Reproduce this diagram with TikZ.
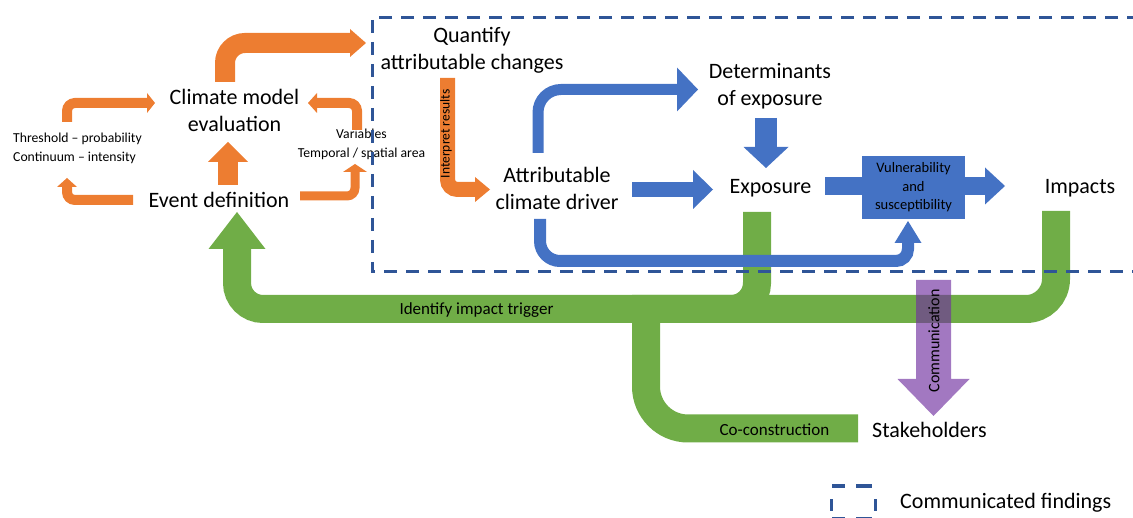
\documentclass[tikz,border=0pt]{standalone}
\usepackage{fontspec}
\setmainfont{Carlito}
\definecolor{orng}{HTML}{ED7D31}
\definecolor{blu}{HTML}{4472C4}
\definecolor{grn}{HTML}{70AD47}
\definecolor{prp}{HTML}{7030A0}
\definecolor{dsh}{HTML}{2F5597}
\newcommand\ahead[5]{\fill[#1,shift={(#2)},rotate=#3] (-#4,-#5) -- (0,0) -- (-#4,#5) -- cycle;}
\begin{document}
\begin{tikzpicture}[x=1pt,y=-1pt,
  big/.style={font=\fontsize{22}{27}\selectfont, align=center, inner sep=0pt},
  note/.style={font=\fontsize{13.7}{19}\selectfont, inner sep=0pt},
  barlbl/.style={font=\fontsize{17}{20}\selectfont, inner sep=0pt},
  vbox/.style={fill=blu, minimum width=103pt, minimum height=63pt, inner sep=0pt, align=center, font=\fontsize{14.5}{18.5}\selectfont},
  oshaft/.style={draw=orng, line cap=butt},
  bshaft/.style={draw=blu, line cap=butt},
  gshaft/.style={draw=grn, line cap=butt, line width=28pt},
  frame/.style={draw=dsh, line width=3pt, dash pattern=on 13pt off 9pt},
]
\useasboundingbox (0,0) rectangle (1133,518);

% ---------- green feedback arrows ----------
\coordinate (g2s) at (1056,211); \coordinate (g2e) at (632,309);
\coordinate (g3s) at (646,300); \coordinate (g3e) at (858,428.5);
\coordinate (g1s) at (757,212); \coordinate (g1c) at (237,309);
\coordinate (g1e) at (237,249); \coordinate (g1t) at (237,212);
\draw[gshaft, rounded corners=30pt] (g2s) |- (g2e);
\draw[gshaft, rounded corners=42pt] (g3s) |- (g3e);
\draw[gshaft, rounded corners=26pt] (g1s) |- (g1c) -- (g1e);
\ahead{grn}{g1t}{90}{37}{28.5}

% ---------- purple communication arrow ----------
\fill[prp, opacity=0.65] (916,280) -- (951,280) -- (951,379) -- (969.5,379)
  -- (933.5,416) -- (897.5,379) -- (916,379) -- cycle;

% ---------- text (multi-line nodes: base = baseline of last line) ----------
\node[big, anchor=base] (cme) at (234.5,132) {Climate model\\evaluation};
\node[big, anchor=base] (evd) at (219,208) {Event definition};
\node[note, anchor=base west, align=left] (thr) at (13,162) {Threshold – probability\\Continuum – intensity};
\node[note, anchor=base, align=center] (var) at (361.5,158) {Variables\\Temporal / spatial area};
\node[big, anchor=base] (qac) at (472,70) {Quantify\\attributable changes};
\node[big, anchor=base] (acd) at (557,210) {Attributable\\climate driver};
\node[big, anchor=base] (doe) at (770,106) {Determinants\\of exposure};
\node[big, anchor=base] (exp) at (770.5,194) {Exposure};
\node[big, anchor=base] (imp) at (1080,194) {Impacts};
\node[big, anchor=base] (stk) at (929.5,438) {Stakeholders};
\node[barlbl, anchor=base] (iit) at (476.5,315) {Identify impact trigger};
\node[barlbl, anchor=base] (coc) at (774.5,436) {Co-construction};
\node[font=\fontsize{16}{19}\selectfont, inner sep=0pt, rotate=90] (com) at (934,341) {Communication};
\node[vbox] (vul) at (913.5,187.5) {Vulnerability\\and\\susceptibility};
\node[big, anchor=base west] (leg) at (900,508) {Communicated findings};

% ---------- dashed frame and legend ----------
\coordinate (f1) at (1140,18); \coordinate (f2) at (372,18);
\coordinate (f3) at (372,272); \coordinate (f4) at (1140,272);
\draw[frame] (f1) -- (f2) -- (f3) -- (f4);
\draw[draw=dsh, line width=3pt, line cap=butt]
  (832,486) -- (845,486) (856,486) -- (872,486)
  (831,499) -- (831,511) (875,499) -- (875,511)
  (832,518) -- (845,518) (856,518) -- (872,518);

% ---------- orange arrows ----------
\coordinate (o1s) at (225,82); \coordinate (o1c) at (350,43); \coordinate (o1t) at (366,43);
\draw[oshaft, line width=20pt, rounded corners=20pt] (o1s) |- (o1c);
\ahead{orng}{o1t}{0}{16}{14}
\coordinate (o2s) at (67,122); \coordinate (o2c) at (147,103); \coordinate (o2t) at (155,103);
\draw[oshaft, line width=10pt, rounded corners=8pt] (o2s) |- (o2c);
\ahead{orng}{o2t}{0}{8}{10}
\coordinate (o3s) at (133,200); \coordinate (o3c) at (67,187); \coordinate (o3t) at (67,178);
\draw[oshaft, line width=10pt, rounded corners=8pt] (o3s) -| (o3c);
\ahead{orng}{o3t}{90}{9}{10}
\coordinate (o4s) at (300,196); \coordinate (o4c) at (355,172); \coordinate (o4t) at (355,164);
\draw[oshaft, line width=9pt, rounded corners=8pt] (o4s) -| (o4c);
\ahead{orng}{o4t}{90}{8}{12}
\coordinate (o5s) at (357,130); \coordinate (o5c) at (317,103); \coordinate (o5t) at (308,103);
\draw[oshaft, line width=10pt, rounded corners=8pt] (o5s) |- (o5c);
\ahead{orng}{o5t}{180}{9}{10}
\coordinate (o6s) at (228,185); \coordinate (o6c) at (228,162); \coordinate (o6t) at (228,142);
\draw[oshaft, line width=20pt] (o6s) -- (o6c);
\ahead{orng}{o6t}{90}{20}{20}
\coordinate (o7s) at (447.5,78); \coordinate (o7c) at (475,189.5); \coordinate (o7t) at (490,189.5);
\draw[oshaft, line width=15pt, rounded corners=10pt] (o7s) |- (o7c);
\ahead{orng}{o7t}{0}{15}{12.5}
\node[font=\fontsize{13.5}{16}\selectfont, inner sep=0pt, rotate=90] (ipr) at (446,134) {Interpret results};

% ---------- blue arrows ----------
\coordinate (b1s) at (538,153); \coordinate (b1c) at (677,89.5); \coordinate (b1t) at (698,89.5);
\draw[bshaft, line width=11pt, rounded corners=23pt] (b1s) |- (b1c);
\ahead{blu}{b1t}{0}{21}{22}
\coordinate (b2s) at (632,189.5); \coordinate (b2c) at (693,189.5); \coordinate (b2t) at (713,189.5);
\draw[bshaft, line width=15pt] (b2s) -- (b2c);
\ahead{blu}{b2t}{0}{20}{19.5}
\coordinate (b3s) at (540,219); \coordinate (b3m) at (720,261);
\coordinate (b3c) at (908,243); \coordinate (b3t) at (908,221);
\draw[bshaft, line width=12pt] (b3s) [rounded corners=20pt] |- (b3m) [rounded corners=12pt] -| (b3c);
\ahead{blu}{b3t}{90}{22}{13.5}
\coordinate (b4s) at (766,118); \coordinate (b4c) at (766,147); \coordinate (b4t) at (766,168);
\draw[bshaft, line width=22pt] (b4s) -- (b4c);
\ahead{blu}{b4t}{-90}{21}{22.5}
\coordinate (b5s) at (825,186); \coordinate (b5e) at (985,186); \coordinate (b5t) at (1005,186);
\draw[bshaft, line width=18pt] (b5s) -- (b5s -| vul.west);
\draw[bshaft, line width=18pt] (b5s -| vul.east) -- (b5e);
\ahead{blu}{b5t}{0}{20}{18.5}
\end{tikzpicture}
\end{document}
